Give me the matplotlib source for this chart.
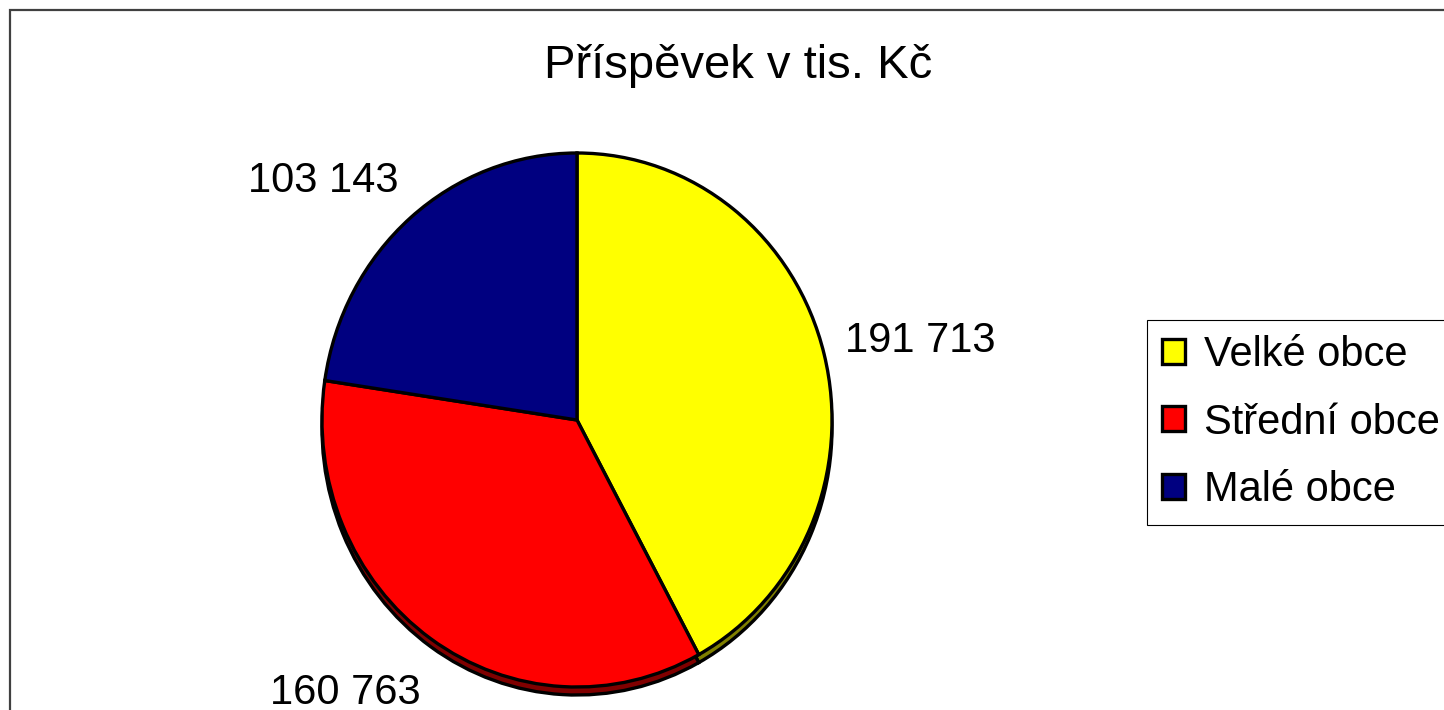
import numpy as np
import matplotlib
matplotlib.use('Agg')
import matplotlib.pyplot as plt
from matplotlib.patches import Rectangle

plt.rcParams['font.family'] = ['Liberation Sans', 'DejaVu Sans']

# data
categories = ['Velké obce', 'Střední obce', 'Malé obce']
values = [191713, 160763, 103143]
colors = ['#ffff00', '#ff0000', '#000080']
shadow_colors = ['#808000', '#800000', '#000040']
title = 'Příspěvek v tis. Kč'

W, H = 1444, 710
fig = plt.figure(figsize=(W / 100, H / 100), dpi=100)

# outer chart frame (runs off the right and bottom edges)
fig.patches.append(Rectangle((10 / W, -0.05), 1.1, (H - 10) / H + 0.05,
                             transform=fig.transFigure, fill=False,
                             edgecolor='#404040', linewidth=1.6))

# pie axes, centre at (577, 420) px, radii 255 x 267 px
cx, cy = 577, H - 420
rx, ry = 255, 267
hx, hy = 300, 285
ax = fig.add_axes([(cx - hx) / W, (cy - hy) / H, 2 * hx / W, 2 * hy / H])

depth = 0.03
ax.pie(values, colors=shadow_colors, startangle=90, counterclock=False,
       center=(0, -depth),
       wedgeprops=dict(edgecolor='black', linewidth=2.4))
wedges, _ = ax.pie(values, colors=colors, startangle=90, counterclock=False,
                   wedgeprops=dict(edgecolor='black', linewidth=2.4))

ax.set_aspect('auto')
ax.set_xlim(-hx / rx, hx / rx)
ax.set_ylim(-hy / ry, hy / ry)
ax.axis('off')

# value labels outside the slices
label_dist = [1.12, 1.26, 1.15]
label_ha = ['left', 'right', 'right']
label_shift = [(-6, 4), (20, 2), (9, 4.5)]  # points
for w, v, d, ha, sh in zip(wedges, values, label_dist, label_ha, label_shift):
    mid = np.deg2rad((w.theta1 + w.theta2) / 2)
    txt = f'{v:,}'.replace(',', ' ')
    ax.annotate(txt, (d * np.cos(mid), d * np.sin(mid)), xytext=sh,
                textcoords='offset points', ha=ha, va='center',
                fontsize=30, annotation_clip=False)

fig.text(738 / W, 1 - 66 / H, title, ha='center', va='center', fontsize=34)

leg = fig.legend(wedges, categories, loc='upper left',
                 bbox_to_anchor=(1147 / W, 1 - 320 / H),
                 fontsize=30, frameon=True, fancybox=False,
                 edgecolor='black', framealpha=1,
                 handlelength=0.55, handleheight=0.55, handletextpad=0.45,
                 labelspacing=0.66, borderpad=0.36, borderaxespad=0)
leg.get_frame().set_linewidth(0.8)

fig.savefig('out.png', dpi=100)
